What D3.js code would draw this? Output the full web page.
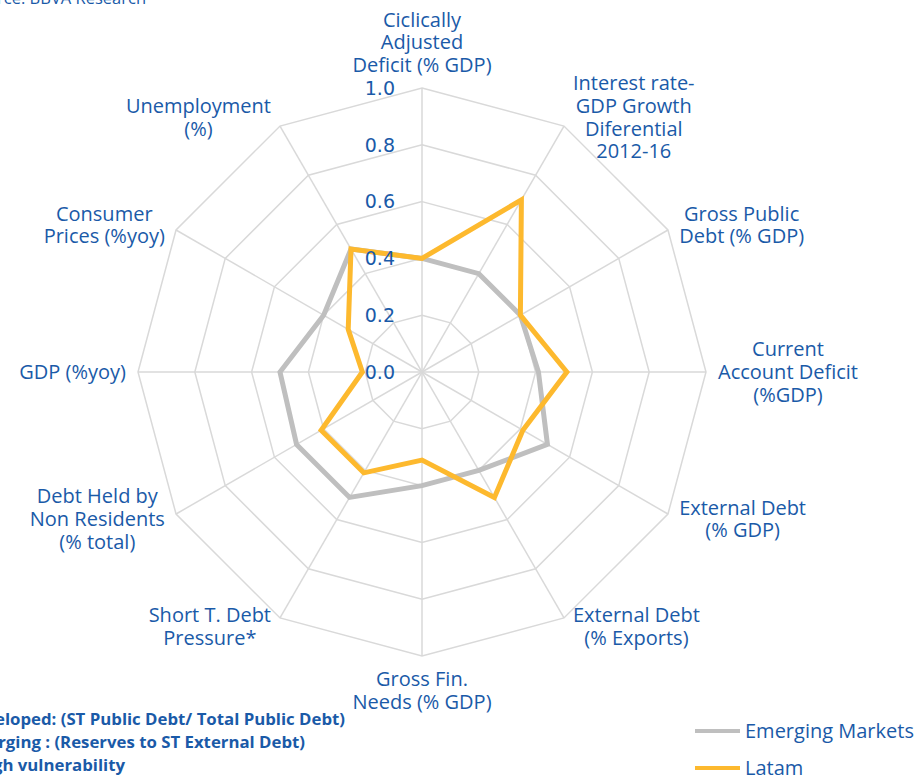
<!DOCTYPE html>
<html lang="en">
<head>
<meta charset="utf-8">
<script src="https://cdnjs.cloudflare.com/ajax/libs/d3/7.8.5/d3.min.js"></script>
<style>
  body { margin: 0; background: #fff; }
  svg { display: block; }
  .lbl { font-family: "Open Sans", sans-serif; font-size: 20px; fill: #1a5aa8; }
  .tick { font-family: "DejaVu Sans", sans-serif; font-size: 19px; fill: #1a5aa8; }
  .note { font-family: "Open Sans", sans-serif; font-size: 16.8px; font-weight: 700; fill: #1a5aa8; }
  .src { font-family: "Open Sans", sans-serif; font-size: 16.5px; fill: #1a5aa8; }
</style>
</head>
<body>
<svg id="chart" width="919" height="777"></svg>
<script>
// radar axes, clockwise from top
const axes = [
  ["Ciclically", "Adjusted", "Deficit (% GDP)"],
  ["Interest rate-", "GDP Growth", "Diferential", "2012-16"],
  ["Gross Public", "Debt (% GDP)"],
  ["Current", "Account Deficit", "(%GDP)"],
  ["External Debt", "(% GDP)"],
  ["External Debt", "(% Exports)"],
  ["Gross Fin.", "Needs (% GDP)"],
  ["Short T. Debt", "Pressure*"],
  ["Debt Held by", "Non Residents", "(% total)"],
  ["GDP (%yoy)"],
  ["Consumer", "Prices (%yoy)"],
  ["Unemployment", "(%)"]
];

const emerging = [0.40, 0.40, 0.40, 0.41, 0.51, 0.40, 0.40, 0.51, 0.51, 0.50, 0.40, 0.50];
const latam    = [0.40, 0.70, 0.40, 0.51, 0.41, 0.51, 0.31, 0.41, 0.41, 0.21, 0.30, 0.50];

const ticks = [0, 0.2, 0.4, 0.6, 0.8, 1.0];

const footnotes = [
  "*Developed: (ST Public Debt/ Total Public Debt)",
  "Emerging : (Reserves to ST External Debt)",
  "High vulnerability"
];

const series = [
  { name: "Emerging Markets", values: emerging, color: "#bfbfbf" },
  { name: "Latam", values: latam, color: "#fdb92e" }
];

const svg = d3.select("#chart");
const cx = 422, cy = 372, R = 284;
const n = axes.length;

const r = d3.scaleLinear().domain([0, 1]).range([0, R]);
const ang = d3.scaleLinear().domain([0, n]).range([0, 2 * Math.PI]);

const g = svg.append("g").attr("transform", `translate(${cx},${cy})`);

const pt = (i, v) => [Math.sin(ang(i)) * r(v), -Math.cos(ang(i)) * r(v)];

// grid rings
const ring = d3.lineRadial().angle((d, i) => ang(i)).radius(d => r(d)).curve(d3.curveLinearClosed);
ticks.filter(t => t > 0).forEach(t => {
  g.append("path")
    .attr("d", ring(d3.range(n).map(() => t)))
    .attr("fill", "none").attr("stroke", "#d9d9d9").attr("stroke-width", 1.5);
});

// spokes
g.selectAll(".spoke").data(d3.range(n)).join("line")
  .attr("x1", 0).attr("y1", 0)
  .attr("x2", i => pt(i, 1)[0]).attr("y2", i => pt(i, 1)[1])
  .attr("stroke", "#d9d9d9").attr("stroke-width", 1.5);

// series
const line = d3.lineRadial().angle((d, i) => ang(i)).radius(d => r(d)).curve(d3.curveLinearClosed);
series.forEach(s => {
  g.append("path")
    .attr("d", line(s.values))
    .attr("fill", "none").attr("stroke", s.color)
    .attr("stroke-width", 5).attr("stroke-linejoin", "miter");
});

// tick labels
g.selectAll(".tick").data(ticks).join("text")
  .attr("class", "tick")
  .attr("x", -27).attr("y", d => -r(d))
  .attr("dy", "0.36em")
  .attr("text-anchor", "end")
  .text(d => d.toFixed(1));

// axis labels
const lh = 22.6;
axes.forEach((lines, i) => {
  const a = ang(i), s = Math.sin(a), c = Math.cos(a);
  const [ex, ey] = pt(i, 1);
  const t = g.append("text").attr("class", "lbl").attr("text-anchor", "middle");
  lines.forEach((l, k) => t.append("tspan").attr("x", 0).attr("dy", k ? lh : 0).text(l));
  const w = d3.max(t.selectAll("tspan").nodes(), nd => nd.getComputedTextLength());
  const h = lines.length * lh;
  let x, yc;
  if (Math.abs(s) < 0.1) {
    x = ex;
    yc = c > 0 ? ey - 12 - h / 2 : ey + 12 + h / 2;
  } else {
    const off = 6 + 6 * Math.abs(s);
    x = s > 0 ? ex + off + w / 2 : ex - off - w / 2;
    yc = ey - c * 10;
  }
  // first baseline: center block, baseline ~0.35em below line center
  const y0 = yc - h / 2 + lh / 2 + 7;
  t.attr("transform", `translate(${x},${y0})`);
});

// footnotes (clipped at left edge like the original)
const fnRight = [345, 305, 125];
footnotes.forEach((f, k) => {
  svg.append("text").attr("class", "note")
    .attr("x", fnRight[k]).attr("y", 725 + k * 23)
    .attr("text-anchor", "end").text(f);
});

// source, cut off at top
svg.append("text").attr("class", "src").attr("x", 146).attr("y", 4)
  .attr("text-anchor", "end").text("Source: BBVA Research");

// legend
const leg = svg.append("g").attr("transform", "translate(695,731)");
series.forEach((s, k) => {
  const row = leg.append("g").attr("transform", `translate(0,${k * 37})`);
  row.append("line").attr("x1", 0).attr("x2", 45).attr("y1", 0).attr("y2", 0)
    .attr("stroke", s.color).attr("stroke-width", 4);
  row.append("text").attr("class", "lbl").attr("x", 50).attr("y", 0).attr("dy", "0.35em").text(s.name);
});
</script>
</body>
</html>
